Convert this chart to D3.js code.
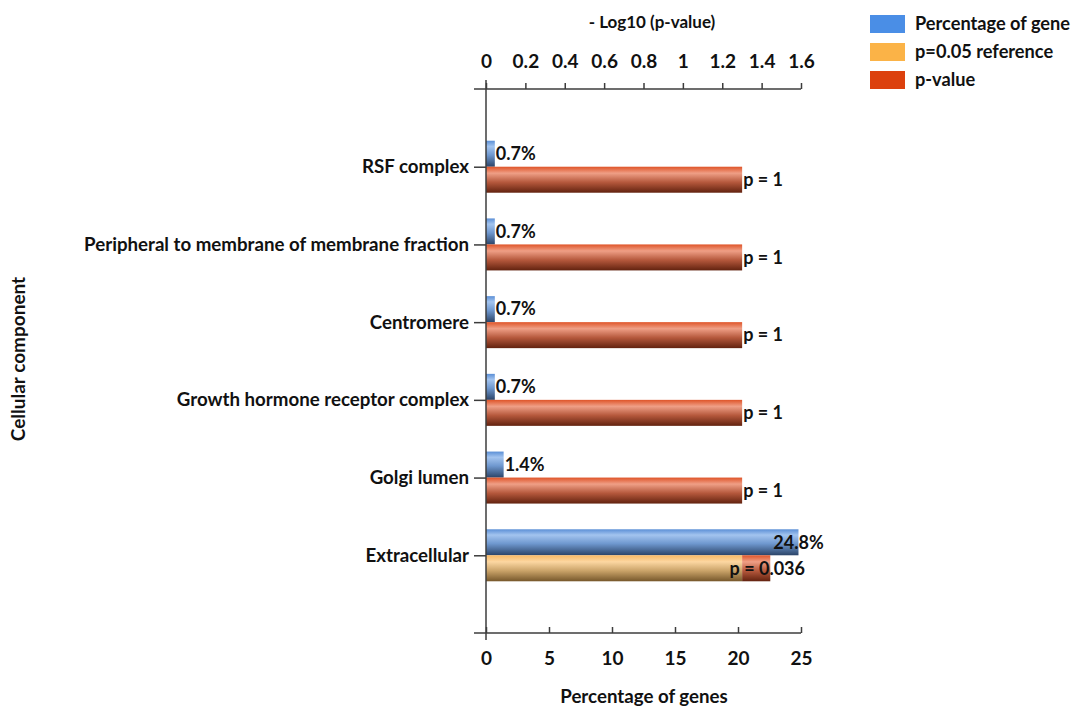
<!DOCTYPE html>
<html>
<head>
<meta charset="utf-8">
<script src="https://cdn.jsdelivr.net/npm/d3@7"></script>
<style>
  html, body { margin: 0; padding: 0; background: #fff; }
  svg { display: block; font-family: Lato, "Open Sans", sans-serif; font-weight: bold; }
</style>
</head>
<body>
<svg id="chart" width="1073" height="706"></svg>
<script>
// GO cellular component enrichment
const categories = [
  "RSF complex",
  "Peripheral to membrane of membrane fraction",
  "Centromere",
  "Growth hormone receptor complex",
  "Golgi lumen",
  "Extracellular"
];
const genePercent = [0.7, 0.7, 0.7, 0.7, 1.4, 24.8];
const pValues = [1, 1, 1, 1, 1, 0.036];
// -log10 extents of the significance bars as drawn
const referenceBar = [0, 0, 0, 0, 0, 1.301];
const pValueBar = [1.301, 1.301, 1.301, 1.301, 1.301, 1.444];
const percentTicks = [0, 5, 10, 15, 20, 25];
const logTicks = [0, 0.2, 0.4, 0.6, 0.8, 1, 1.2, 1.4, 1.6];
const legendItems = ["Percentage of gene", "p=0.05 reference", "p-value"];

const svg = d3.select("#chart");
const plotLeft = 486, plotRight = 801, plotTop = 89, plotBottom = 633;
const barH = 26;
const axisColor = "#3c3c3c";

const x = d3.scaleLinear().domain([0, 25]).range([plotLeft, plotRight]);
const xTop = d3.scaleLinear().domain([0, 1.6]).range([plotLeft, plotRight]);
const y = d3.scalePoint().domain(categories).range([plotTop, plotBottom]).padding(1);

// bar gradients
const defs = svg.append("defs");
function grad(id, stops) {
  const g = defs.append("linearGradient").attr("id", id)
    .attr("x1", 0).attr("y1", 0).attr("x2", 0).attr("y2", 1);
  stops.forEach(([o, c]) => g.append("stop").attr("offset", o).attr("stop-color", c));
}
grad("gBlue", [[0, "#5b8fd6"], [0.22, "#a3c4ef"], [0.55, "#6f98cf"], [1, "#2b4468"]]);
grad("gRed", [[0, "#df5428"], [0.25, "#ef9f86"], [0.6, "#b5583c"], [1, "#62220f"]]);
grad("gOrange", [[0, "#f9b862"], [0.25, "#fcd7a2"], [0.6, "#c9a268"], [1, "#76572b"]]);

const legendColors = ["#4a8ee6", "#fbb347", "#dc410e"];

// Bars
const rows = categories.map((c, i) => ({
  c, pct: genePercent[i], p: pValues[i], ref: referenceBar[i], pv: pValueBar[i]
}));

const g = svg.append("g");
g.selectAll(".pct").data(rows).join("rect")
  .attr("x", x(0)).attr("y", d => y(d.c) - barH)
  .attr("width", d => x(d.pct) - x(0)).attr("height", barH)
  .attr("fill", "url(#gBlue)");

g.selectAll(".ref").data(rows.filter(d => d.ref > 0)).join("rect")
  .attr("x", xTop(0)).attr("y", d => y(d.c))
  .attr("width", d => xTop(d.ref) - xTop(0)).attr("height", barH)
  .attr("fill", "url(#gOrange)");

g.selectAll(".pv").data(rows).join("rect")
  .attr("x", d => xTop(d.ref)).attr("y", d => y(d.c))
  .attr("width", d => xTop(d.pv) - xTop(d.ref)).attr("height", barH)
  .attr("fill", "url(#gRed)");

// Value labels: outside the bar end, centred on the end when the bar nearly fills the axis
const nearEnd = px => px > plotLeft + 0.85 * (plotRight - plotLeft);
g.selectAll(".pctLbl").data(rows).join("text")
  .attr("x", d => nearEnd(x(d.pct)) ? x(d.pct) : x(d.pct) + 1)
  .attr("y", d => y(d.c) - barH / 2)
  .attr("dy", "0.35em")
  .attr("text-anchor", d => nearEnd(x(d.pct)) ? "middle" : "start")
  .attr("font-size", 18).attr("fill", "#111")
  .text(d => d.pct + "%");

g.selectAll(".pLbl").data(rows).join("text")
  .attr("x", d => nearEnd(xTop(d.pv)) ? xTop(d.pv) - 3 : xTop(d.pv) + 1)
  .attr("y", d => y(d.c) + barH / 2)
  .attr("dy", "0.35em")
  .attr("text-anchor", d => nearEnd(xTop(d.pv)) ? "middle" : "start")
  .attr("font-size", 18).attr("fill", "#111")
  .text(d => "p = " + d.p);

// Axes
const bottomAxis = d3.axisBottom(x).tickValues(percentTicks).tickSize(-6).tickPadding(19);
const ba = svg.append("g").attr("transform", `translate(0,${plotBottom})`).call(bottomAxis);
ba.select(".domain").attr("d", `M${plotLeft - 12},0H${plotRight}`);

const topAxis = d3.axisTop(xTop).tickValues(logTicks).tickSize(6)
  .tickFormat(d => d3.format("~g")(d)).tickPadding(15);
const ta = svg.append("g").attr("transform", `translate(0,${plotTop})`).call(topAxis);
ta.select(".domain").attr("d", `M${plotLeft - 12},0H${plotRight}`);

const leftAxis = d3.axisLeft(y).tickSize(12).tickPadding(5);
const la = svg.append("g").attr("transform", `translate(${plotLeft},0)`).call(leftAxis);
la.select(".domain").attr("d", `M0,${plotTop - 9}V${plotBottom + 7}`);

[ba, ta, la].forEach(a => {
  a.selectAll(".domain, .tick line").attr("stroke", axisColor).attr("stroke-width", 1.5);
  a.selectAll("text").attr("fill", "#111").attr("font-family", "Lato, sans-serif").attr("font-weight", "bold");
});
ba.selectAll("text").attr("font-size", 19);
ta.selectAll("text").attr("font-size", 19);
la.selectAll("text").attr("font-size", 18.7);

// Titles
svg.append("text").attr("x", 652).attr("y", 22).attr("dy", "0.35em")
  .attr("text-anchor", "middle").attr("font-size", 17).attr("fill", "#111")
  .text("- Log10 (p-value)");
svg.append("text").attr("x", 644).attr("y", 696).attr("dy", "0.35em")
  .attr("text-anchor", "middle").attr("font-size", 18.7).attr("fill", "#111")
  .text("Percentage of genes");
svg.append("text").attr("transform", "translate(18,359) rotate(-90)").attr("dy", "0.35em")
  .attr("text-anchor", "middle").attr("font-size", 19).attr("fill", "#111")
  .text("Cellular component");

// Legend
const lg = svg.append("g").attr("transform", "translate(870,15)");
legendItems.forEach((t, i) => {
  lg.append("rect").attr("x", 0).attr("y", i * 28).attr("width", 35).attr("height", 18)
    .attr("fill", legendColors[i]);
  lg.append("text").attr("x", 45).attr("y", i * 28 + 9).attr("dy", "0.35em")
    .attr("font-size", 18.2).attr("fill", "#111").text(t);
});
</script>
</body>
</html>
